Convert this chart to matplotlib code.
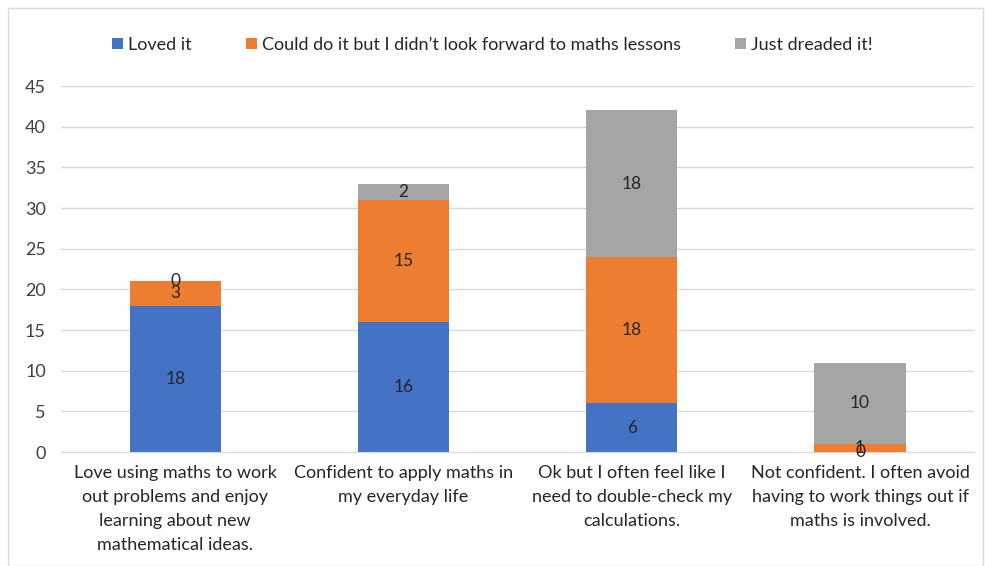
import matplotlib.pyplot as plt
import numpy as np
from matplotlib.patches import Rectangle

categories = [
    "Love using maths to work\nout problems and enjoy\nlearning about new\nmathematical ideas.",
    "Confident to apply maths in\nmy everyday life",
    "Ok but I often feel like I\nneed to double-check my\ncalculations.",
    "Not confident. I often avoid\nhaving to work things out if\nmaths is involved.",
]
series_names = ["Loved it", "Could do it but I didn\u2019t look forward to maths lessons", "Just dreaded it!"]
loved = [18, 16, 6, 0]
could = [3, 15, 18, 1]
dreaded = [0, 2, 18, 10]
colors = ["#4472C4", "#ED7D31", "#A5A5A5"]

plt.rcParams['font.family'] = ['Lato', 'DejaVu Sans']

fig = plt.figure(figsize=(9.85, 5.66), dpi=100)
ax = fig.add_axes([0.062, 0.2014, 0.927, 0.6466])

x = np.arange(len(categories))
bottom = np.zeros(len(categories))
handles = []
for vals, name, c in zip([loved, could, dreaded], series_names, colors):
    vals = np.array(vals, dtype=float)
    bars = ax.bar(x, vals, 0.4, bottom=bottom, color=c, label=name, zorder=2)
    handles.append(bars)
    for xi, v, b in zip(x, vals, bottom):
        ax.text(xi, b + v / 2, f"{int(v)}", ha='center', va='center',
                fontsize=12.5, color='#262626', zorder=3)
    bottom += vals

ax.set_xlim(-0.5, 3.5)
ax.set_ylim(0, 45)
ax.set_yticks(range(0, 46, 5))
ax.yaxis.grid(True, color='#D9D9D9', linewidth=1, zorder=0)
ax.set_axisbelow(True)
for s in ['top', 'right', 'left']:
    ax.spines[s].set_visible(False)
ax.spines['bottom'].set_color('#D9D9D9')
ax.tick_params(axis='both', length=0, labelsize=13, colors='#404040')
ax.tick_params(axis='y', pad=11)
ax.set_xticks(x)
ax.set_xticklabels(categories, fontsize=13, color='#262626', linespacing=1.62)
ax.tick_params(axis='x', pad=9)

fig.legend(handles=handles, labels=series_names, loc='center', bbox_to_anchor=(0.5, 0.921),
           ncol=3, frameon=False, fontsize=13, handlelength=0.6, handleheight=0.6,
           handletextpad=0.3, columnspacing=3.0, labelcolor='#262626')

fig.patches.append(Rectangle((0.008, 0.0), 0.99, 0.985, transform=fig.transFigure,
                             fill=False, edgecolor='#D9D9D9', linewidth=1))

fig.savefig('out.png', dpi=100)
